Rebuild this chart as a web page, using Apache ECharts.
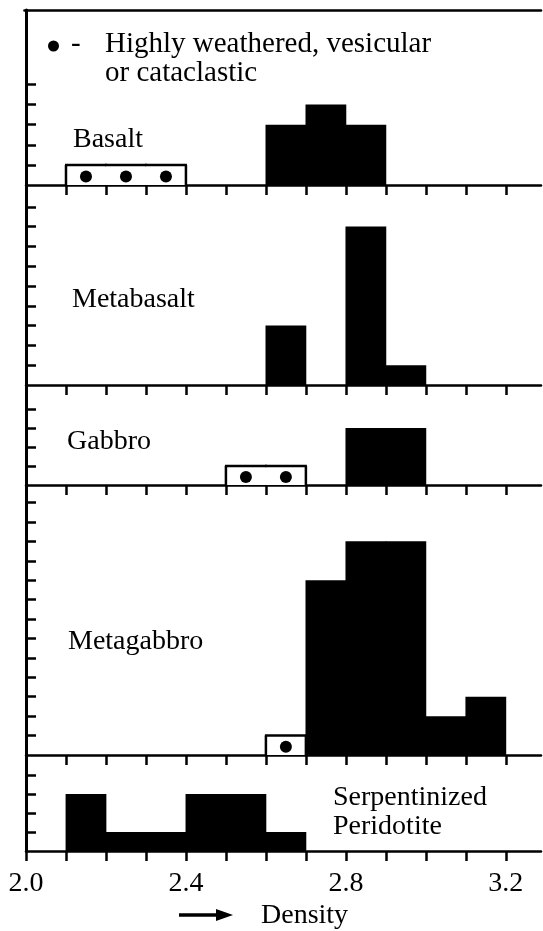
<!DOCTYPE html>
<html>
<head>
<meta charset="utf-8">
<script src="https://cdn.jsdelivr.net/npm/echarts@6/dist/echarts.min.js"></script>
<style>
html,body{margin:0;padding:0;background:#fff;}
#c{width:543px;height:931px;}
</style>
</head>
<body>
<div id="c"></div>
<script>
// ---- data ----
const binStarts = [2.0, 2.1, 2.2, 2.3, 2.4, 2.5, 2.6, 2.7, 2.8, 2.9, 3.0, 3.1];
const binWidth = 0.1;

const basaltSolid        = [0, 0, 0, 0, 0, 0, 3, 4, 3, 0, 0, 0];
const basaltWeathered    = [0, 1, 1, 1, 0, 0, 0, 0, 0, 0, 0, 0];
const metabasaltSolid    = [0, 0, 0, 0, 0, 0, 3, 0, 8, 1, 0, 0];
const metabasaltWeathered= [0, 0, 0, 0, 0, 0, 0, 0, 0, 0, 0, 0];
const gabbroSolid        = [0, 0, 0, 0, 0, 0, 0, 0, 3, 3, 0, 0];
const gabbroWeathered    = [0, 0, 0, 0, 0, 1, 1, 0, 0, 0, 0, 0];
const metagabbroSolid    = [0, 0, 0, 0, 0, 0, 0, 9, 11, 11, 2, 3];
const metagabbroWeathered= [0, 0, 0, 0, 0, 0, 1, 0, 0, 0, 0, 0];
const serpSolid          = [0, 3, 1, 1, 3, 3, 1, 0, 0, 0, 0, 0];
const serpWeathered      = [0, 0, 0, 0, 0, 0, 0, 0, 0, 0, 0, 0];

const panelNames = ['Basalt', 'Metabasalt', 'Gabbro', 'Metagabbro', 'Serpentinized\nPeridotite'];
const legendText = 'Highly weathered, vesicular\nor cataclastic';
const xTitle = 'Density';

const xTickValues  = [2.0, 2.1, 2.2, 2.3, 2.4, 2.5, 2.6, 2.7, 2.8, 2.9, 3.0, 3.1, 3.2];
const xLabelValues = [2.0, 2.4, 2.8, 3.2];
const yTicksBasalt     = [1, 2, 3, 4, 5];
const yTicksMetabasalt = [1, 2, 3, 4, 5, 6, 7, 8, 9];
const yTicksGabbro     = [1, 2, 3, 4];
const yTicksMetagabbro = [1, 2, 3, 4, 5, 6, 7, 8, 9, 10, 11, 12, 13];
const yTicksSerp       = [1, 2, 3, 4];

// ---- layout (not data) ----
const FONT = '"Liberation Serif", "Times New Roman", serif';
const FS = 28;
const LEFT = 26, WIDTH = 515;
const X_MIN = 2.0, X_MAX = 3.288;
const panels = [
  { top: 10,  height: 175, yMax: 8.7,  solid: basaltSolid,     weathered: basaltWeathered,     yTicks: yTicksBasalt,
    label: { x: 73, y: 140 } },
  { top: 185, height: 200, yMax: 10.1, solid: metabasaltSolid, weathered: metabasaltWeathered, yTicks: yTicksMetabasalt,
    label: { x: 72, y: 300 } },
  { top: 385, height: 100, yMax: 5.26, solid: gabbroSolid,     weathered: gabbroWeathered,     yTicks: yTicksGabbro,
    label: { x: 67, y: 442 } },
  { top: 485, height: 270, yMax: 13.9, solid: metagabbroSolid, weathered: metagabbroWeathered, yTicks: yTicksMetagabbro,
    label: { x: 68, y: 642 } },
  { top: 755, height: 96,  yMax: 5.05, solid: serpSolid,       weathered: serpWeathered,       yTicks: yTicksSerp,
    label: { x: 333, y: 812 } }
];

function solidData(arr) {
  return binStarts.map((b, i) => [b, +(b + binWidth).toFixed(2), arr[i]]).filter(d => d[2] > 0);
}
function weatheredData(arr) {
  return binStarts.map((b, i) => [b, +(b + binWidth).toFixed(2), arr[i], i > 0 ? arr[i - 1] : 0, i < arr.length - 1 ? arr[i + 1] : 0])
                  .filter(d => d[2] > 0);
}

function renderSolid(params, api) {
  const x0 = api.value(0), x1 = api.value(1), c = api.value(2);
  const p0 = api.coord([x0, c]);
  const p1 = api.coord([x1, 0]);
  return {
    type: 'rect',
    shape: { x: p0[0] - 0.4, y: p0[1], width: p1[0] - p0[0] + 0.8, height: p1[1] - p0[1] },
    style: { fill: '#000' }
  };
}

function renderWeathered(params, api) {
  const x0 = api.value(0), x1 = api.value(1), c = api.value(2), prev = api.value(3), next = api.value(4);
  const t0 = api.coord([x0, c]), t1 = api.coord([x1, c]);
  const b0 = api.coord([x0, 0]), b1 = api.coord([x1, 0]);
  const ls = { stroke: '#000', lineWidth: 2.5, fill: null };
  const children = [
    { type: 'rect', shape: { x: t0[0], y: t0[1], width: t1[0] - t0[0], height: b0[1] - t0[1] }, style: { fill: '#fff' } },
    { type: 'line', shape: { x1: t0[0] - 1, y1: t0[1], x2: t1[0] + 1, y2: t1[1] }, style: ls },
    { type: 'circle', shape: { cx: (t0[0] + t1[0]) / 2, cy: (t0[1] + b0[1]) / 2 + 1.5, r: 6 }, style: { fill: '#000' } }
  ];
  if (!prev) children.push({ type: 'line', shape: { x1: b0[0], y1: b0[1], x2: t0[0], y2: t0[1] }, style: ls });
  if (!next) children.push({ type: 'line', shape: { x1: b1[0], y1: b1[1], x2: t1[0], y2: t1[1] }, style: ls });
  return { type: 'group', children: children };
}

const grid = [], xAxis = [], yAxis = [], series = [];
panels.forEach((p, i) => {
  grid.push({ left: LEFT, top: p.top, width: WIDTH, height: p.height, containLabel: false, outerBoundsMode: 'none' });
  const isLast = i === panels.length - 1;
  xAxis.push({
    type: 'value', gridIndex: i, min: X_MIN, max: X_MAX, position: 'bottom',
    axisLine: { show: true, onZero: false, lineStyle: { color: '#000', width: 2.5 } },
    axisTick: { show: true, inside: false, length: 10, customValues: xTickValues, lineStyle: { color: '#000', width: 2.5 } },
    axisLabel: isLast ? {
      show: true, customValues: xLabelValues, formatter: v => Number(v).toFixed(1),
      fontFamily: FONT, fontSize: 28, color: '#000', margin: 19
    } : { show: false },
    splitLine: { show: false }
  });
  yAxis.push({
    type: 'value', gridIndex: i, min: 0, max: p.yMax,
    axisLine: { show: true, lineStyle: { color: '#000', width: 3 } },
    axisTick: { show: true, inside: true, length: 10, customValues: p.yTicks, lineStyle: { color: '#000', width: 2.5 } },
    axisLabel: { show: false },
    splitLine: { show: false }
  });
});
// frame strip above the first panel: its bottom axis line is the top border
grid.push({ left: LEFT - 1.5, top: 0, width: WIDTH + 1.5, height: 10, containLabel: false, outerBoundsMode: 'none' });
xAxis.push({
  type: 'value', gridIndex: panels.length, min: 0, max: 1, position: 'bottom',
  axisLine: { show: true, onZero: false, lineStyle: { color: '#000', width: 2.6 } },
  axisTick: { show: false }, axisLabel: { show: false }, splitLine: { show: false }
});
yAxis.push({
  type: 'value', gridIndex: panels.length, min: 0, max: 1,
  axisLine: { show: false }, axisTick: { show: false }, axisLabel: { show: false }, splitLine: { show: false }
});

panels.forEach((p, i) => {
  series.push({
    type: 'custom', xAxisIndex: i, yAxisIndex: i, renderItem: renderSolid,
    data: solidData(p.solid), silent: true, animation: false, z: 3
  });
  series.push({
    type: 'custom', xAxisIndex: i, yAxisIndex: i, renderItem: renderWeathered,
    data: weatheredData(p.weathered), silent: true, animation: false, z: 4
  });
});

const textEl = (txt, x, y, fs, lh) => ({
  type: 'text', x: x, y: y, z: 10, silent: true,
  style: { text: txt, font: fs + 'px ' + FONT, fontSize: fs, fontFamily: FONT, fill: '#000',
           align: 'left', verticalAlign: 'middle', textAlign: 'left', textVerticalAlign: 'middle', lineHeight: lh }
});

const graphic = [];
panels.forEach((p, i) => {
  graphic.push(textEl(panelNames[i], p.label.x, p.label.y, FS, 29));
});
// legend
graphic.push({ type: 'circle', shape: { cx: 53.5, cy: 46, r: 5.5 }, style: { fill: '#000' }, z: 10, silent: true });
graphic.push(textEl('-', 71, 44, 29, 29));
graphic.push(textEl(legendText, 105, 59, 29, 29));
// axis title with arrow
graphic.push({ type: 'line', shape: { x1: 179, y1: 915, x2: 220, y2: 915 }, style: { stroke: '#000', lineWidth: 3.5 }, z: 10, silent: true });
graphic.push({ type: 'polygon', shape: { points: [[216, 909], [233, 915], [216, 921]] }, style: { fill: '#000' }, z: 10, silent: true });
graphic.push(textEl(xTitle, 261, 916, 28, 29));

const chart = echarts.init(document.getElementById('c'), null, { renderer: 'canvas' });
chart.setOption({
  animation: false,
  backgroundColor: '#fff',
  grid: grid, xAxis: xAxis, yAxis: yAxis, series: series, graphic: graphic
});
</script>
</body>
</html>
